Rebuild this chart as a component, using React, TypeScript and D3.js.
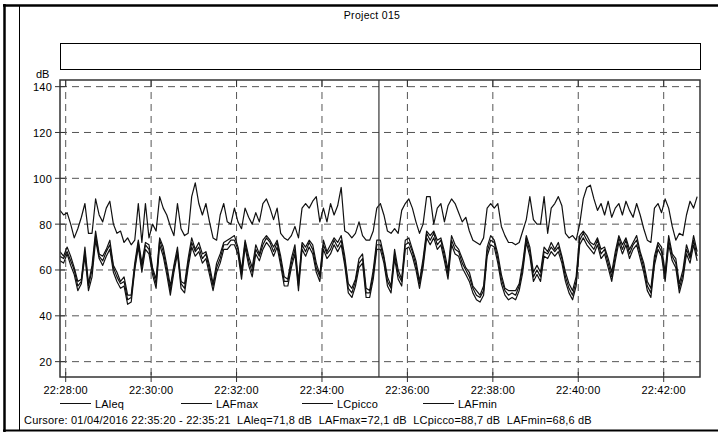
import React from "react";
import * as d3 from "d3";

// ---- Data (one sample every 5 s from 22:27:52) ----
const START_TIME = "2016-04-01T22:27:52";
const END_TIME = "2016-04-01T22:42:51";
const CURSOR_TIME = "2016-04-01T22:35:20";
const STEP_SECONDS = 5;

const LAleq = [
  66,65,68,64,60,53,55,68,53,60,75,66,64,68,71,61,57,54,55,47,48,61,72,61,71,69,60,54,73,68,60,51,61,68,54,52,63,72,68,70,65,67,60,53,61,
  65,71,71,73,73,69,58,72,64,59,69,66,71,74,72,68,72,64,55,55,63,69,53,71,68,72,69,61,57,71,67,69,73,70,73,64,52,50,55,63,65,50,50,58,71,
  71,65,55,52,67,58,55,71,72,68,62,54,63,76,73,76,71,73,66,58,73,69,68,63,60,57,52,49,48,51,68,73,72,65,56,51,49,50,49,53,61,74,68,57,60,
  57,68,67,70,68,70,65,57,52,49,55,73,76,73,71,69,73,67,69,63,57,66,74,69,73,67,71,73,67,61,53,50,64,71,68,57,73,66,63,52,58,69,65,73,66,
];
const LAFmax = [
  68,66,70,66,61,55,56,70,54,62,77,67,66,69,73,62,59,55,57,49,49,63,73,63,72,71,61,56,74,70,62,53,62,70,55,54,65,74,69,72,67,68,62,54,63,
  67,72,73,74,75,70,60,73,66,61,71,67,73,75,73,70,73,66,57,56,65,71,55,72,70,73,71,63,58,73,68,71,74,72,75,66,54,52,56,65,67,52,51,60,73,
  73,66,57,53,69,60,56,73,74,69,64,55,65,77,75,77,73,74,68,60,75,71,69,65,61,59,53,51,49,53,70,75,73,67,58,52,51,51,51,54,63,75,70,59,62,
  59,70,68,72,69,72,66,59,54,51,57,75,77,75,72,71,74,69,70,65,59,68,75,71,74,69,72,75,68,63,55,52,66,72,70,59,75,67,65,54,60,71,66,75,68,
];
const LCpicco = [
  86,84,85,80,74,78,83,89,76,76,91,84,81,87,90,80,76,77,72,74,71,73,89,72,89,74,80,77,92,87,84,79,75,89,78,75,76,92,98,89,84,89,81,74,73,
  84,89,81,80,87,81,78,87,83,80,85,81,89,91,87,82,87,76,74,73,75,79,74,87,89,87,90,92,81,87,81,89,84,88,96,77,76,74,76,81,75,73,73,77,87,
  89,84,77,76,78,76,86,89,91,87,81,76,80,92,92,80,87,89,81,88,91,89,85,81,83,77,73,72,71,74,87,89,87,89,79,75,72,72,71,72,77,82,92,82,80,
  80,92,76,87,89,92,88,76,74,75,73,80,91,96,97,91,86,89,84,90,83,87,89,84,90,86,83,89,84,78,73,72,87,89,85,91,87,79,73,76,75,84,90,87,92,
];
const LAFmin = [
  64,63,67,62,58,51,54,66,51,57,73,65,62,66,69,59,55,52,53,45,46,60,70,59,69,67,58,52,71,66,58,49,59,67,52,50,61,70,66,68,63,65,58,51,59,
  63,69,69,71,71,67,56,70,62,57,67,64,69,72,70,66,70,62,53,53,61,67,51,69,66,70,67,59,55,69,65,67,71,68,71,62,50,48,53,61,63,48,48,56,69,
  69,63,53,50,65,56,53,69,70,66,60,52,61,74,71,74,69,71,64,56,71,67,66,61,58,55,50,47,46,49,66,71,70,63,54,49,47,48,47,51,59,72,66,55,58,
  55,66,65,68,66,68,63,55,50,47,53,71,74,71,69,67,71,65,67,61,55,64,72,67,71,65,69,71,65,59,51,48,62,69,66,55,71,64,61,50,56,67,63,71,64,
];

const SERIES_NAMES = ["LAleq", "LAFmax", "LCpicco", "LAFmin"];
const Y_TICKS = [20, 40, 60, 80, 100, 120, 140];
const TITLE = "Project 015";
const Y_UNIT = "dB";
const CURSOR_TEXT =
  "Cursore: 01/04/2016 22:35:20 - 22:35:21  LAleq=71,8 dB  LAFmax=72,1 dB  LCpicco=88,7 dB  LAFmin=68,6 dB";

const FONT = "'Liberation Sans', Arial, Helvetica, sans-serif";

export default function App() {
  const W = 718;
  const H = 432;
  const left = 60, right = 700, top = 80, bottom = 377;

  const start = new Date(START_TIME);
  const end = new Date(END_TIME);
  const x = d3.scaleTime().domain([start, end]).range([left, right]);
  const y = d3.scaleLinear().domain([13.3, 142.9]).range([bottom, top]);

  const times = LAleq.map((_, i) => new Date(start.getTime() + i * STEP_SECONDS * 1000));
  const series = [LAleq, LAFmax, LCpicco, LAFmin];

  const line = d3
    .line<number>()
    .x((_, i) => x(times[i]))
    .y((d) => y(d));

  const xTicks = x.ticks(d3.timeMinute.every(2)!);
  const fmt = d3.timeFormat("%H:%M:%S");
  const cursorX = x(new Date(CURSOR_TIME));

  const gridStyle = { stroke: "#555", strokeWidth: 1, strokeDasharray: "7,5", fill: "none" };
  const FS = 11;

  return (
    <svg
      width={W}
      height={H}
      style={{ position: "absolute", left: 0, top: 0, background: "#fff" }}
      fontFamily={FONT}
    >
      <rect x={0} y={0} width={W} height={H} fill="#fff" />
      {/* outer frame */}
      <line x1={3} x2={W} y1={5.5} y2={5.5} stroke="#000" strokeWidth={2.5} />
      <line x1={4.5} x2={4.5} y1={4} y2={H} stroke="#000" strokeWidth={2.5} />
      <line x1={3} x2={W} y1={430.5} y2={430.5} stroke="#000" strokeWidth={2} />
      <line x1={19.5} x2={19.5} y1={6} y2={430} stroke="#000" strokeWidth={1} />

      {/* title */}
      <text x={372} y={19} textAnchor="middle" fontSize={10.5} letterSpacing={0.3} fill="#000">
        {TITLE}
      </text>
      <rect x={left + 0.5} y={43.5} width={right - left} height={26} fill="none" stroke="#000" strokeWidth={1} />

      {/* grid */}
      <g>
        {Y_TICKS.map((v) => (
          <line key={"h" + v} x1={left} x2={right} y1={y(v)} y2={y(v)} {...gridStyle} />
        ))}
        {xTicks.map((t) => (
          <line key={"v" + +t} x1={x(t)} x2={x(t)} y1={top} y2={bottom} {...gridStyle} />
        ))}
      </g>

      {/* data */}
      <defs>
        <clipPath id="plotclip">
          <rect x={left} y={top} width={right - left} height={bottom - top} />
        </clipPath>
      </defs>
      <g clipPath="url(#plotclip)">
        {series.map((s, i) => (
          <path key={SERIES_NAMES[i]} d={line(s) || ""} fill="none" stroke="#111" strokeWidth={1.2} strokeLinejoin="round" />
        ))}
      </g>

      {/* cursor */}
      <line x1={cursorX} x2={cursorX} y1={top} y2={bottom} stroke="#333" strokeWidth={1.2} />

      {/* plot frame */}
      <rect x={left} y={top} width={right - left} height={bottom - top} fill="none" stroke="#333" strokeWidth={1.5} />

      {/* y axis */}
      {Y_TICKS.map((v) => (
        <g key={"yt" + v}>
          <line x1={left - 5} x2={left + 5} y1={y(v)} y2={y(v)} stroke="#333" strokeWidth={1} />
          <text x={52} y={y(v) + 4.5} textAnchor="end" fontSize={FS} letterSpacing={0.2} fill="#000">
            {v}
          </text>
        </g>
      ))}
      <text x={36} y={78} fontSize={FS} fill="#000">
        {Y_UNIT}
      </text>

      {/* x axis */}
      {xTicks.map((t) => (
        <g key={"xt" + +t}>
          <line x1={x(t)} x2={x(t)} y1={bottom - 5} y2={bottom + 5} stroke="#333" strokeWidth={1} />
          <line x1={x(t)} x2={x(t)} y1={top} y2={top + 7} stroke="#333" strokeWidth={1} />
          <text x={x(t)} y={394} textAnchor="middle" fontSize={FS} letterSpacing={0.2} fill="#000">
            {fmt(t)}
          </text>
        </g>
      ))}

      {/* legend */}
      {SERIES_NAMES.map((name, i) => {
        const lx = 60 + i * 121;
        return (
          <g key={"lg" + name}>
            <line x1={lx} x2={lx + 31} y1={403.5} y2={403.5} stroke="#111" strokeWidth={1} />
            <text x={lx + 35} y={407.5} fontSize={FS} letterSpacing={0.2} fill="#000">
              {name}
            </text>
          </g>
        );
      })}

      {/* cursor readout */}
      <text x={24} y={424} fontSize={FS} letterSpacing={0.2} fill="#000" style={{ whiteSpace: "pre" }}>
        {CURSOR_TEXT}
      </text>
    </svg>
  );
}
